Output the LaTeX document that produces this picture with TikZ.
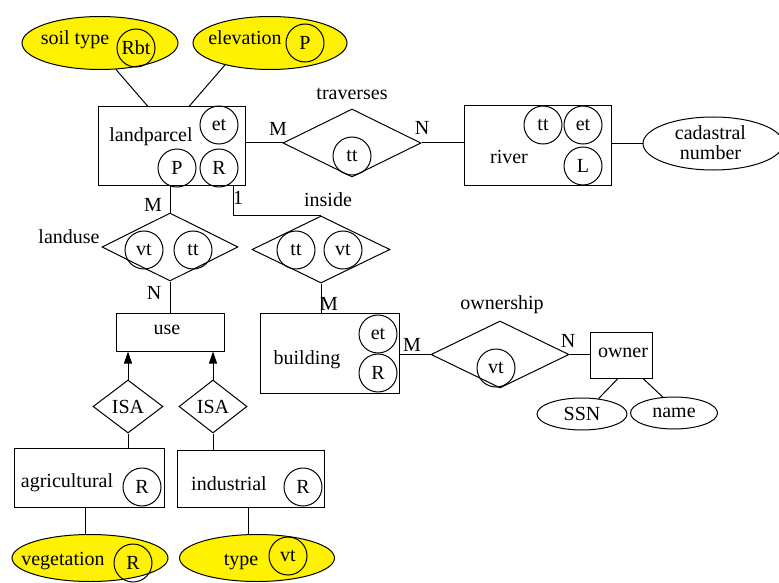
\documentclass[tikz,border=0pt]{standalone}
\usepackage{fontspec}
\setmainfont{Liberation Serif}
\usetikzlibrary{shapes.geometric,arrows.meta}
\begin{document}
\begin{tikzpicture}[x=1pt,y=-1pt,line width=1pt,
  font=\fontsize{20}{22}\selectfont,
  entity/.style={draw,rectangle,inner sep=0pt},
  rel/.style={draw,diamond,inner sep=0pt},
  attr/.style={draw,ellipse,inner sep=0pt},
  yattr/.style={attr,fill=yellow},
  tag/.style={draw,circle,inner sep=0pt,minimum size=38pt},
  lbl/.style={inner sep=0pt},
  isarrow/.style={-{Triangle[length=12pt,width=8pt]}}]
\useasboundingbox (0,0) rectangle (779,583);

% entities
\node[entity,minimum width=147pt,minimum height=78pt] (lp) at (171.5,146) {};
\node[lbl] (lpname) at (151,137) {landparcel};
\node[tag] (lpet) at (219,125) {et};
\node[tag] (lpP) at (177,168) {P};
\node[tag] (lpR) at (219,168) {R};

\node[entity,minimum width=147pt,minimum height=79pt] (riv) at (537.5,145.5) {};
\node[lbl] (rivname) at (509,157) {river};
\node[tag] (rivtt) at (543,125) {tt};
\node[tag] (rivet) at (583,125) {et};
\node[tag] (rivL) at (583,166) {L};

\node[entity,minimum width=108pt,minimum height=38pt] (use) at (170,332) {};
\node[lbl] (usename) at (167,330) {use};

\node[entity,minimum width=139pt,minimum height=80pt] (bld) at (329.5,353) {};
\node[lbl] (bldname) at (307,360) {building};
\node[tag] (bldet) at (378,334) {et};
\node[tag] (bldR) at (378,373) {R};

\node[entity,minimum width=62pt,minimum height=46pt] (own) at (621,355) {};
\node[lbl] (ownname) at (623,353) {owner};

\node[entity,minimum width=150pt,minimum height=59pt] (agr) at (89,477.5) {};
\node[lbl] (agrname) at (67,483) {agricultural};
\node[tag] (agrR) at (142,487) {R};

\node[entity,minimum width=147pt,minimum height=57pt] (ind) at (250.5,478.5) {};
\node[lbl] (indname) at (229,484) {industrial};
\node[tag] (indR) at (303,487) {R};

% relationships
\node[rel,minimum width=138pt,minimum height=68pt] (trav) at (352,143) {};
\node[lbl] (travname) at (352,94) {traverses};
\node[tag] (travtt) at (352,156) {tt};

\node[rel,minimum width=136pt,minimum height=68pt] (lu) at (170,247) {};
\node[lbl] (luname) at (69,237) {landuse};
\node[tag] (luvt) at (144,250) {vt};
\node[tag] (lutt) at (193,250) {tt};

\node[rel,minimum width=138pt,minimum height=67pt] (ins) at (321,249.5) {};
\node[lbl] (insname) at (328,200) {inside};
\node[tag] (instt) at (296,250) {tt};
\node[tag] (insvt) at (343,250) {vt};

\node[rel,minimum width=138pt,minimum height=67pt] (ownr) at (500,354.5) {};
\node[lbl] (ownrname) at (502,305) {ownership};
\node[tag] (ownrvt) at (496,368) {vt};

\node[rel,minimum width=70pt,minimum height=53pt] (isa1) at (128,406.5) {ISA};
\node[rel,minimum width=68pt,minimum height=53pt] (isa2) at (213,406.5) {ISA};

% attributes
\node[yattr,minimum width=156pt,minimum height=53pt] (soil) at (100,43) {};
\node[lbl] (soilname) at (75,40) {soil type};
\node[tag] (soilRbt) at (136,48) {Rbt};

\node[yattr,minimum width=154pt,minimum height=53pt] (elev) at (270,43) {};
\node[lbl] (elevname) at (245,38) {elevation};
\node[tag] (elevP) at (305,43) {P};

\node[attr,minimum width=140pt,minimum height=53pt] (cad) at (713,143.5) {};
\node[lbl,align=center] (cadname) at (710.5,143) {cadastral\\[-2pt]number};

\node[attr,minimum width=90pt,minimum height=32pt] (ssn) at (582,414) {SSN};
\node[attr,minimum width=87pt,minimum height=32pt] (name) at (674,413) {name};

\node[yattr,minimum width=156pt,minimum height=47pt] (veg) at (90,558) {};
\node[lbl] (vegname) at (63,561) {vegetation};
\node[tag] (vegR) at (133,563) {R};

\node[yattr,minimum width=155pt,minimum height=47pt] (typ) at (257,558) {};
\node[lbl] (typname) at (241,562) {type};
\node[tag] (typvt) at (288,556) {vt};

% connectors
\draw (soil.-59) -- ([xshift=-23.5pt]lp.north);
\draw (elev.-154) -- ([xshift=17.5pt]lp.north);
\draw (trav.west) -- (trav.west -| lp.east);
\draw (trav.east) -- (trav.east -| riv.west);
\draw (cad.west) -- (cad.west -| riv.east);
\draw (lu.north) -- (lu.north |- lp.south);
\draw (lu.south) -- (lu.south |- use.north);
\draw (ins.north) -| ([xshift=61.5pt]lp.south);
\draw (ins.south) -- (ins.south |- bld.north);
\draw (ownr.west) -- (ownr.west -| bld.east);
\draw (ownr.east) -- (ownr.east -| own.west);
\draw (ssn.43) -- ([xshift=-3pt]own.south);
\draw (name.125) -- ([xshift=22pt]own.south);
\draw[isarrow] (isa1.north) -- (isa1.north |- use.south);
\draw[isarrow] (isa2.north) -- (isa2.north |- use.south);
\draw (isa1.south) -- (isa1.south |- agr.north);
\draw (isa2.south) -- (isa2.south |- ind.north);
\draw ([xshift=-5pt]veg.north) -- ([xshift=-5pt]veg.north |- agr.south);
\draw ([xshift=-9pt]typ.north) -- ([xshift=-9pt]typ.north |- ind.south);

% cardinalities
\node[lbl] (c1) at (278,129) {M};
\node[lbl] (c2) at (422,128) {N};
\node[lbl] (c3) at (153,205) {M};
\node[lbl] (c4) at (154,293) {N};
\node[lbl] (c5) at (238,198) {1};
\node[lbl] (c6) at (329,304) {M};
\node[lbl] (c7) at (412,345) {M};
\node[lbl] (c8) at (568,341) {N};
\end{tikzpicture}
\end{document}
